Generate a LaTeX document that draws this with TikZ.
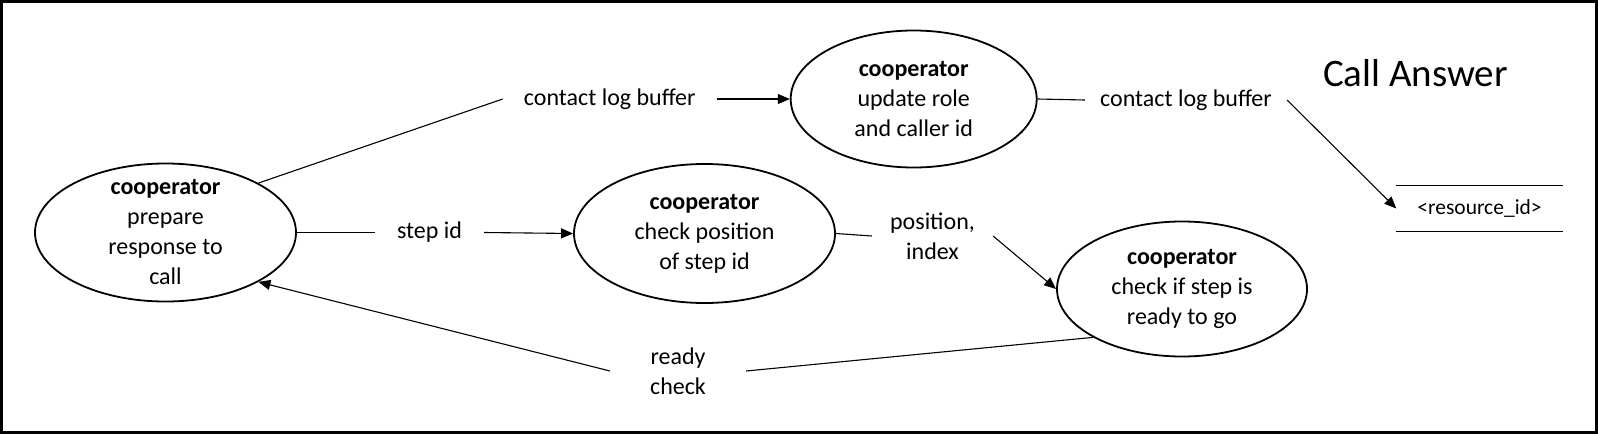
\documentclass[tikz,border=0pt]{standalone}
\usepackage{fontspec}
\setmainfont{Carlito}
\usetikzlibrary{shapes.geometric,arrows.meta}
\tikzset{
  proc/.style={ellipse, draw, line width=1.8pt, inner sep=0pt},
  proctext/.style={align=center, font=\fontsize{24}{30}\selectfont},
  lbl/.style={align=center, inner xsep=22pt, inner ysep=0pt, font=\fontsize{24}{30}\selectfont},
  flow/.style={line width=1.1pt},
  >={Triangle[length=12pt,width=10pt]}
}
\begin{document}
\begin{tikzpicture}[x=1pt,y=-1pt]
\useasboundingbox (0,0) rectangle (1598,434);
\draw[line width=3pt] (1.5,1.5) rectangle (1596.5,432.5);
\node[font=\fontsize{39}{46}\selectfont, anchor=base] (title) at (1415.5,86.7) {Call Answer};
\node[proc, minimum width=261pt, minimum height=138pt] (prep) at (165.5,232.5) {};
\node[proctext] (preptxt) at (prep) {\textbf{cooperator}\\prepare\\response to\\call};
\node[proc, minimum width=261pt, minimum height=139pt] (check) at (704.5,233.5) {};
\node[proctext] (checktxt) at (check) {\textbf{cooperator}\\check position\\of step id};
\node[proc, minimum width=246pt, minimum height=137pt] (update) at (913.7,99) {};
\node[proctext] (updatetxt) at (update) {\textbf{cooperator}\\update role\\and caller id};
\node[proc, minimum width=250pt, minimum height=135pt] (ready) at (1182,289) {};
\node[proctext] (readytxt) at (ready) {\textbf{cooperator}\\check if step is\\ready to go};
\node[lbl, inner xsep=21pt] (buf1) at (609.75,99) {contact log buffer};
\node[lbl] (stepid) at (429.5,232.5) {step id};
\node[lbl, inner xsep=18pt] (pos) at (932.5,236) {position,\\index};
\node[lbl, inner xsep=40pt] (rdy) at (678,371) {ready\\check};
\node[lbl, inner xsep=15pt] (buf2) at (1186,100) {contact log buffer};
\node[font=\fontsize{21.5}{26}\selectfont, minimum width=166pt, minimum height=45pt, inner sep=0pt] (res) at (1479.5,208.5) {<resource\_id>};
\draw[line width=1.3pt] (res.north west) -- (res.north east);
\draw[line width=1.3pt] (res.south west) -- (res.south east);
\draw[flow] (prep.north east) -- (buf1.west);
\draw[flow,->] (buf1.east) -- (update.west);
\draw[flow] (update.east) -- (buf2.west);
\draw[flow,->] (buf2.east) -- (res.west);
\draw[flow] (prep.east) -- (stepid.west);
\draw[flow,->] (stepid.east) -- (check.west);
\draw[flow] (check.east) -- (pos.west);
\draw[flow,->] (pos.east) -- (ready.west);
\draw[flow] (ready.south west) -- (rdy.east);
\draw[flow,->] (rdy.west) -- (prep.south east);
\end{tikzpicture}
\end{document}
